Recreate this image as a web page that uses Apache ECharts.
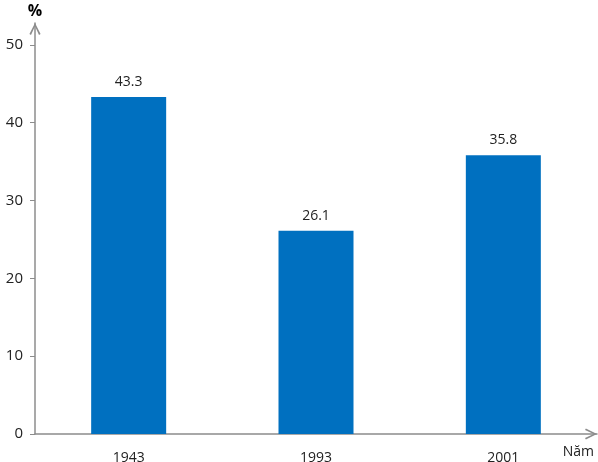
<!DOCTYPE html>
<html>
<head>
<meta charset="utf-8">
<script src="https://cdn.jsdelivr.net/npm/echarts@6/dist/echarts.min.js"></script>
<style>html,body{margin:0;padding:0;background:#fff}#c{width:598px;height:462px}</style>
</head>
<body>
<div id="c"></div>
<script>
const categories = ['1943', '1993', '2001'];
const values = [43.3, 26.1, 35.8];
const yTicks = [0, 10, 20, 30, 40, 50];

const chart = echarts.init(document.getElementById('c'));
const font = '"Open Sans", "DejaVu Sans", sans-serif';
const axisColor = '#8c8c8c';
const chevron = 'path://M0,10 L5,0 L10,10 L8.6,10.8 L5,3 L1.4,10.8 Z';
chart.setOption({
  animation: false,
  grid: { left: 35, right: 1, top: 23, bottom: 28, containLabel: false, outerBoundsMode: 'none' },
  xAxis: {
    type: 'category',
    data: categories,
    axisLine: { lineStyle: { color: axisColor, width: 1.5 }, symbol: ['none', chevron], symbolSize: [12, 12], symbolOffset: [0, -6] },
    axisTick: { show: false },
    axisLabel: { color: '#222', fontSize: 14, fontFamily: font, margin: 17 },
    name: 'Năm',
    nameLocation: 'end',
    nameGap: 0,
    nameTextStyle: { color: '#222', fontSize: 14, fontFamily: font, align: 'right', verticalAlign: 'top', padding: [11, 3, 0, 0] }
  },
  yAxis: {
    type: 'value',
    min: 0,
    max: 52.8,
    axisLine: { show: true, lineStyle: { color: axisColor, width: 1.5 }, symbol: ['none', chevron], symbolSize: [12, 12], symbolOffset: [0, -6] },
    axisTick: { show: true, length: 5, customValues: yTicks, lineStyle: { color: axisColor } },
    axisLabel: { color: '#222', fontSize: 15, fontFamily: font, margin: 12, customValues: yTicks },
    splitLine: { show: false },
    name: '%',
    nameLocation: 'end',
    nameGap: 4,
    nameTextStyle: { color: '#000', fontSize: 16, fontWeight: 'bold', fontFamily: font, align: 'center' }
  },
  series: [{
    type: 'bar',
    data: values,
    barWidth: 75,
    itemStyle: { color: '#0070C0' },
    label: { show: true, position: 'top', distance: 8, color: '#222', fontSize: 14, fontFamily: font }
  }]
});
</script>
</body>
</html>
